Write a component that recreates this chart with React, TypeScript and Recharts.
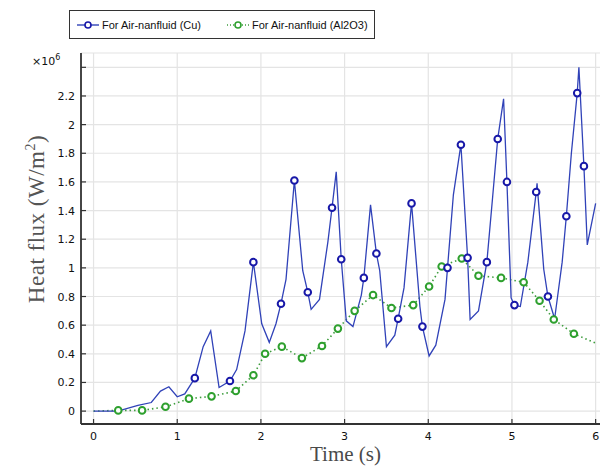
import React from 'react';
import { LineChart, Line, XAxis, YAxis, CartesianGrid } from 'recharts';

// Heat flux (x10^6 W/m2) over time (s)
const cuData = [
  { t: 0, v: 0 }, { t: 0.29, v: 0.0 }, { t: 0.53, v: 0.04 }, { t: 0.69, v: 0.06 },
  { t: 0.8, v: 0.14 }, { t: 0.9, v: 0.17 }, { t: 1.0, v: 0.1 }, { t: 1.09, v: 0.12 },
  { t: 1.21, v: 0.23 }, { t: 1.31, v: 0.45 }, { t: 1.4, v: 0.56 }, { t: 1.5, v: 0.165 },
  { t: 1.63, v: 0.21 }, { t: 1.71, v: 0.29 }, { t: 1.81, v: 0.56 }, { t: 1.91, v: 1.04 },
  { t: 2.01, v: 0.61 }, { t: 2.1, v: 0.48 }, { t: 2.18, v: 0.61 }, { t: 2.24, v: 0.75 },
  { t: 2.3, v: 0.92 }, { t: 2.4, v: 1.61 }, { t: 2.5, v: 0.98 }, { t: 2.56, v: 0.83 },
  { t: 2.6, v: 0.71 }, { t: 2.7, v: 0.78 }, { t: 2.8, v: 1.18 }, { t: 2.85, v: 1.42 },
  { t: 2.9, v: 1.67 }, { t: 2.96, v: 1.06 }, { t: 3.02, v: 0.63 }, { t: 3.1, v: 0.59 },
  { t: 3.2, v: 0.81 }, { t: 3.23, v: 0.93 }, { t: 3.31, v: 1.44 }, { t: 3.38, v: 1.1 },
  { t: 3.42, v: 0.98 }, { t: 3.5, v: 0.45 }, { t: 3.6, v: 0.53 }, { t: 3.64, v: 0.645 },
  { t: 3.71, v: 0.86 }, { t: 3.8, v: 1.45 }, { t: 3.9, v: 0.73 }, { t: 3.93, v: 0.59 },
  { t: 4.01, v: 0.385 }, { t: 4.09, v: 0.46 }, { t: 4.2, v: 0.78 }, { t: 4.23, v: 1.0 },
  { t: 4.3, v: 1.51 }, { t: 4.39, v: 1.86 }, { t: 4.47, v: 1.07 }, { t: 4.5, v: 0.64 },
  { t: 4.6, v: 0.7 }, { t: 4.7, v: 1.04 }, { t: 4.77, v: 1.5 }, { t: 4.83, v: 1.9 },
  { t: 4.9, v: 2.18 }, { t: 4.94, v: 1.6 }, { t: 4.99, v: 0.79 }, { t: 5.03, v: 0.74 },
  { t: 5.1, v: 0.73 }, { t: 5.19, v: 1.04 }, { t: 5.29, v: 1.53 }, { t: 5.3, v: 1.59 },
  { t: 5.38, v: 0.99 }, { t: 5.43, v: 0.8 }, { t: 5.51, v: 0.645 }, { t: 5.6, v: 1.04 },
  { t: 5.65, v: 1.36 }, { t: 5.71, v: 1.8 }, { t: 5.78, v: 2.22 }, { t: 5.8, v: 2.4 },
  { t: 5.86, v: 1.71 }, { t: 5.9, v: 1.16 }, { t: 6.0, v: 1.45 },
];

// times where the Cu curve carries a circle marker
const cuMarkerTimes = [
  1.21, 1.63, 1.91, 2.24, 2.4, 2.56, 2.85, 2.96, 3.23, 3.38, 3.64, 3.8, 3.93,
  4.23, 4.39, 4.47, 4.7, 4.83, 4.94, 5.03, 5.29, 5.43, 5.65, 5.78, 5.86,
];

const alData = [
  { t: 0, v: 0 }, { t: 0.295, v: 0.005 }, { t: 0.58, v: 0.005 }, { t: 0.86, v: 0.03 },
  { t: 1.14, v: 0.087 }, { t: 1.41, v: 0.103 }, { t: 1.7, v: 0.14 }, { t: 1.91, v: 0.25 },
  { t: 2.05, v: 0.4 }, { t: 2.25, v: 0.45 }, { t: 2.49, v: 0.37 }, { t: 2.73, v: 0.455 },
  { t: 2.92, v: 0.576 }, { t: 3.12, v: 0.7 }, { t: 3.34, v: 0.81 }, { t: 3.56, v: 0.72 },
  { t: 3.82, v: 0.74 }, { t: 4.01, v: 0.87 }, { t: 4.16, v: 1.01 }, { t: 4.4, v: 1.065 },
  { t: 4.6, v: 0.945 }, { t: 4.87, v: 0.93 }, { t: 5.14, v: 0.9 }, { t: 5.33, v: 0.77 },
  { t: 5.5, v: 0.64 }, { t: 5.74, v: 0.54 }, { t: 6.0, v: 0.475 },
];

const alMarkerTimes = alData.map(d => d.t).filter(t => t > 0 && t < 6);

const xTicks = [0, 1, 2, 3, 4, 5, 6];
const yTicks = [0, 0.2, 0.4, 0.6, 0.8, 1, 1.2, 1.4, 1.6, 1.8, 2, 2.2, 2.4];
const yLabeled = [0, 0.2, 0.4, 0.6, 0.8, 1, 1.2, 1.4, 1.6, 1.8, 2, 2.2];

const CU_LINE = '#3042b8';
const CU_MARK = '#1818a8';
const AL_LINE = '#3c9c3c';
const AL_MARK = '#2ea02e';
const TICK_FONT = 'DejaVu Sans, sans-serif';
const LEGEND_FONT = 'Liberation Sans, Arial, sans-serif';
const SERIF = 'Liberation Serif, serif';

const makeDot = (times: number[], color: string) => (props: any) => {
  const { cx, cy, payload, index } = props;
  if (!times.includes(payload.t)) return <g key={`n-${index}`} />;
  return (
    <circle key={`d-${index}`} cx={cx} cy={cy} r={3.3} fill="#fff" stroke={color} strokeWidth={2} />
  );
};

const LeftTick = (props: any) => {
  const { x, y, payload } = props;
  const show = yLabeled.includes(payload.value);
  return (
    <g>
      <line x1={x} y1={y} x2={x + 5} y2={y} stroke="#333" strokeWidth={1.2} />
      {show && (
        <text x={x - 6} y={y} dy={4} textAnchor="end" fontSize={11} fontFamily={TICK_FONT} fill="#111">
          {payload.value}
        </text>
      )}
    </g>
  );
};

const RightTick = (props: any) => {
  const { x, y } = props;
  return <line x1={x} y1={y} x2={x - 5} y2={y} stroke="#333" strokeWidth={1.2} />;
};

const BottomTick = (props: any) => {
  const { x, y, payload } = props;
  return (
    <g>
      <line x1={x} y1={y} x2={x} y2={y - 5} stroke="#333" strokeWidth={1.2} />
      <text x={x} y={y + 16} textAnchor="middle" fontSize={11} fontFamily={TICK_FONT} fill="#111">
        {payload.value}
      </text>
    </g>
  );
};

const TopTick = (props: any) => {
  const { x, y } = props;
  return <line x1={x} y1={y} x2={x} y2={y + 5} stroke="#333" strokeWidth={1.2} />;
};

const XLabel = (props: any) => {
  const { viewBox } = props;
  const cx = viewBox.x + viewBox.width / 2 + 3;
  return (
    <text x={cx} y={viewBox.y + 37} textAnchor="middle" fontSize={21} fontFamily={SERIF} fill="#4a4a4a">
      Time (s)
    </text>
  );
};

const YLabel = (props: any) => {
  const { viewBox } = props;
  const cx = viewBox.x + 36;
  const cy = viewBox.y + 166;
  return (
    <g>
      <text
        x={cx}
        y={cy}
        transform={`rotate(-90, ${cx}, ${cy})`}
        textAnchor="middle"
        fontSize={23}
        letterSpacing={0.5}
        fontFamily={SERIF}
        fill="#555"
      >
        Heat flux (W/m<tspan dy={-9} fontSize={14}>2</tspan><tspan dy={9}>)</tspan>
      </text>
      <text x={24} y={57} fontSize={11} fontFamily={TICK_FONT} fill="#111">
        ×10<tspan dy={-5} fontSize={8}>6</tspan>
      </text>
    </g>
  );
};

const LegendSymbol = ({ color, mark, dashed }: { color: string; mark: string; dashed?: boolean }) => (
  <svg width={22} height={12} style={{ display: 'block' }}>
    <line x1={0} y1={6} x2={22} y2={6} stroke={color} strokeWidth={1.4} strokeDasharray={dashed ? '1 2' : undefined} />
    <circle cx={11} cy={6} r={3} fill="#fff" stroke={mark} strokeWidth={1.6} />
  </svg>
);

const App: React.FC = () => {
  const item: React.CSSProperties = { position: 'absolute', top: '50%', transform: 'translateY(-50%)' };
  return (
    <div style={{ position: 'relative', width: 600, height: 458 }}>
      <LineChart width={600} height={458} data={cuData} margin={{ top: 45, right: 4, bottom: 0, left: 0 }}>
        <CartesianGrid xAxisId="b" yAxisId="l" stroke="#e4e4e4" strokeWidth={1.2} />
        <XAxis
          xAxisId="b"
          dataKey="t"
          type="number"
          domain={[-0.15, 6.1]}
          ticks={xTicks}
          allowDataOverflow
          height={42}
          tickSize={0}
          tickMargin={0}
          tick={<BottomTick />}
          axisLine={{ stroke: '#333', strokeWidth: 1.8 }}
          label={<XLabel />}
        />
        <XAxis
          xAxisId="t"
          orientation="top"
          dataKey="t"
          type="number"
          domain={[-0.15, 6.1]}
          ticks={xTicks}
          allowDataOverflow
          height={0}
          tickSize={0}
          tickMargin={0}
          tick={<TopTick />}
          axisLine={{ stroke: '#333', strokeWidth: 1.8 }}
        />
        <YAxis
          yAxisId="l"
          type="number"
          domain={[-0.09, 2.5]}
          ticks={yTicks}
          allowDataOverflow
          width={73}
          tickSize={0}
          tickMargin={0}
          tick={<LeftTick />}
          axisLine={{ stroke: '#333', strokeWidth: 1.8 }}
          label={<YLabel />}
        />
        <YAxis
          yAxisId="r"
          orientation="right"
          type="number"
          domain={[-0.09, 2.5]}
          ticks={yTicks}
          allowDataOverflow
          width={0}
          tickSize={0}
          tickMargin={0}
          tick={<RightTick />}
          axisLine={{ stroke: '#333', strokeWidth: 1.8 }}
        />
        <Line
          xAxisId="b"
          yAxisId="l"
          data={alData}
          dataKey="v"
          type="linear"
          stroke={AL_LINE}
          strokeWidth={1.6}
          strokeDasharray="1.5 3"
          dot={makeDot(alMarkerTimes, AL_MARK)}
          isAnimationActive={false}
        />
        <Line
          xAxisId="b"
          yAxisId="l"
          data={cuData}
          dataKey="v"
          type="linear"
          stroke={CU_LINE}
          strokeWidth={1.3}
          dot={makeDot(cuMarkerTimes, CU_MARK)}
          isAnimationActive={false}
        />
      </LineChart>
      <div
        style={{
          position: 'absolute',
          left: 61,
          top: 2,
          width: 304,
          height: 27,
          border: '1px solid #333',
          fontFamily: LEGEND_FONT,
          fontSize: 11,
          color: '#111',
          background: '#fff',
          whiteSpace: 'nowrap',
        }}
      >
        <div style={{ ...item, left: 7 }}><LegendSymbol color={CU_LINE} mark={CU_MARK} /></div>
        <span style={{ ...item, left: 32 }}>For Air-nanfluid (Cu)</span>
        <div style={{ ...item, left: 157 }}><LegendSymbol color={AL_LINE} mark={AL_MARK} dashed /></div>
        <span style={{ ...item, left: 182 }}>For Air-nanfluid (Al2O3)</span>
      </div>
    </div>
  );
};

export default App;
